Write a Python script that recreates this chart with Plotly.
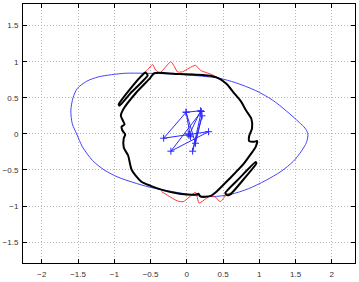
import plotly.graph_objects as go

# Blue outer curve (traced)
blue_x = [1.67, 1.63, 1.55, 1.37, 1.18, 0.95, 0.67, 0.45, 0.20, -0.20, -0.58, -0.85, -1.04, -1.22, -1.38, -1.51, -1.57,
          -1.60, -1.58, -1.52, -1.44, -1.30, -1.14, -0.95, -0.75, -0.51, -0.20, 0.10, 0.35, 0.60, 0.85, 1.08, 1.30, 1.47, 1.58, 1.65, 1.67]
blue_y = [0.00, 0.08, 0.16, 0.32, 0.47, 0.60, 0.71, 0.77, 0.80, 0.83, 0.84, 0.84, 0.82, 0.79, 0.73, 0.63, 0.50,
          0.32, 0.14, 0.00, -0.18, -0.37, -0.50, -0.60, -0.67, -0.74, -0.80, -0.85, -0.87, -0.84, -0.76, -0.65, -0.52, -0.38, -0.24, -0.12, 0.00]

# Red curve (visible top and bottom parts)
red_x = [-0.62, -0.55, -0.47, -0.44, -0.38, -0.30, -0.22, -0.17, -0.13, -0.06, 0.03, 0.12, 0.19, 0.35, 0.46, None,
         -0.35, -0.22, -0.13, -0.05, 0.03, 0.12, 0.17, 0.26, 0.33, 0.40, 0.46, 0.55, 0.60]
red_y = [0.82, 0.88, 0.96, 0.90, 0.84, 0.92, 1.00, 0.93, 0.86, 0.86, 0.91, 0.95, 0.88, 0.82, 0.76, None,
         -0.80, -0.88, -0.93, -0.94, -0.88, -0.81, -0.96, -0.90, -0.86, -0.88, -0.94, -0.84, -0.82]

# Black main closed curve
blk_x = [-0.45, -0.15, 0.12, 0.35, 0.46, 0.55, 0.64, 0.74, 0.82, 0.89, 0.90, 0.86, 0.86, 0.93, 0.97, 0.95,
         0.89, 0.78, 0.58, 0.40, 0.33, 0.19, 0.16, 0.13, -0.10, -0.33, -0.50, -0.63, -0.76, -0.81, -0.87,
         -0.87, -0.85, -0.89, -0.90, -0.86, -0.88, -0.91, -0.87, -0.70, -0.51, -0.45]
blk_y = [0.84, 0.83, 0.82, 0.80, 0.76, 0.69, 0.58, 0.46, 0.32, 0.21, 0.08, -0.03, -0.10, -0.11, -0.10, -0.18,
         -0.27, -0.42, -0.63, -0.81, -0.86, -0.87, -0.83, -0.84, -0.83, -0.78, -0.72, -0.66, -0.50, -0.30, -0.19,
         -0.06, -0.01, 0.05, 0.10, 0.13, 0.18, 0.25, 0.35, 0.57, 0.77, 0.84]

# Black finger loops
f1_x = [-0.57, -0.61, -0.80, -0.94, -0.93, -0.78, -0.54, -0.57]
f1_y = [0.85, 0.82, 0.60, 0.41, 0.39, 0.56, 0.81, 0.85]
f2_x = [0.56, 0.53, 0.72, 0.95, 0.96, 0.80, 0.60, 0.56]
f2_y = [-0.85, -0.82, -0.62, -0.39, -0.41, -0.61, -0.84, -0.85]

# Blue star path
star_x = [0.02, 0.05, -0.01, -0.32, 0.30, -0.22, 0.20, 0.08, 0.21, 0.12, -0.01, 0.19, 0.03]
star_y = [0.00, -0.04, 0.30, -0.06, 0.03, -0.24, 0.31, -0.24, 0.25, -0.13, 0.30, 0.32, -0.02]

x_ticks = [-2, -1.5, -1, -0.5, 0, 0.5, 1, 1.5, 2]
y_ticks = [-1.5, -1, -0.5, 0, 0.5, 1, 1.5]

fig = go.Figure()
fig.add_trace(go.Scatter(x=blue_x, y=blue_y, mode="lines", line=dict(color="#4444ff", width=1, shape="spline", smoothing=0.8)))
fig.add_trace(go.Scatter(x=red_x, y=red_y, mode="lines", line=dict(color="#ff3030", width=1, shape="spline", smoothing=0.6)))
fig.add_trace(go.Scatter(x=blk_x, y=blk_y, mode="lines", line=dict(color="black", width=2, shape="spline", smoothing=0.7)))
for fx, fy in ((f1_x, f1_y), (f2_x, f2_y)):
    fig.add_trace(go.Scatter(x=fx, y=fy, mode="lines", line=dict(color="black", width=2, shape="spline", smoothing=0.5)))
fig.add_trace(go.Scatter(x=star_x, y=star_y, mode="lines+markers", line=dict(color="#2a2aff", width=1),
                         marker=dict(symbol="cross-thin", size=5, line=dict(color="#2a2aff", width=1))))

axis_common = dict(showgrid=True, gridcolor="#b8b8b8", griddash="1px,2px", gridwidth=1, zeroline=False,
                   showline=True, linecolor="black", linewidth=1, mirror="allticks", ticks="inside",
                   ticklen=4, tickcolor="black", tickfont=dict(family="Liberation Sans", size=8, color="#333"))
fig.update_xaxes(range=[-2.26, 2.32], tickvals=x_ticks, ticktext=[("−" if v < 0 else "") + f"{abs(v):g}" for v in x_ticks],
                 ticklabelstandoff=3, **axis_common)
fig.update_yaxes(range=[-1.79, 1.80], tickvals=y_ticks, ticktext=[("−" if v < 0 else "") + f"{abs(v):g}" for v in y_ticks],
                 ticklabelstandoff=2, **axis_common)
fig.update_layout(width=359, height=282, margin=dict(l=20, r=3, t=4, b=13), showlegend=False,
                  plot_bgcolor="white", paper_bgcolor="white")
fig.write_html("out.html")
